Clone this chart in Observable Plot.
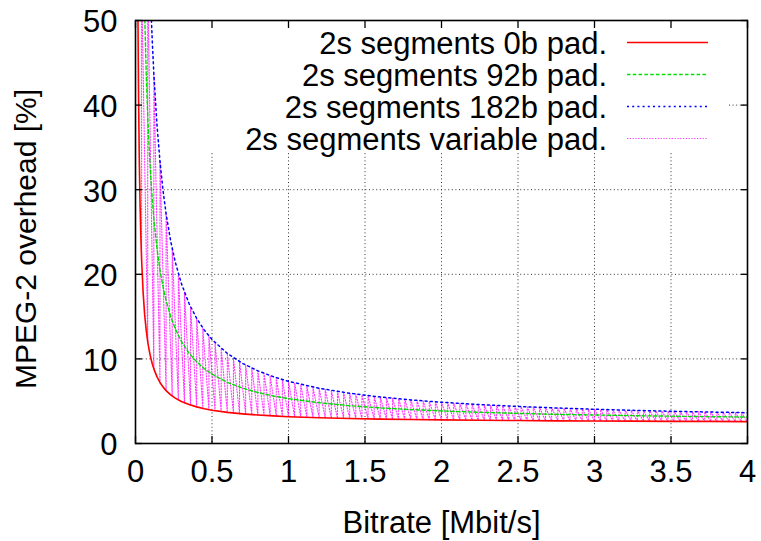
<!DOCTYPE html>
<html><head><meta charset="utf-8">
<script src="https://cdn.jsdelivr.net/npm/d3@7"></script>
<script src="https://cdn.jsdelivr.net/npm/@observablehq/plot@0.6"></script>
<style>
html,body{margin:0;padding:0;background:#fff;}
#chart svg{display:block;}
</style></head><body><div id="chart"></div>
<script>
// ---------- DATA ----------
const xTicks = [0, 0.5, 1, 1.5, 2, 2.5, 3, 3.5, 4];
const xTickLabels = ["0", "0.5", "1", "1.5", "2", "2.5", "3", "3.5", "4"];
const yTicks = [0, 10, 20, 30, 40, 50];
const yTickLabels = ["0", "10", "20", "30", "40", "50"];
const xLabel = "Bitrate [Mbit/s]";
const yLabel = "MPEG-2 overhead [%]";
const seriesNames = ["2s segments 0b pad.", "2s segments 92b pad.", "2s segments 182b pad.", "2s segments variable pad."];

// bitrate sample points for the three smooth curves
const bitrate = [0.016, 0.02, 0.025, 0.03, 0.035, 0.04, 0.05, 0.06, 0.07, 0.08, 0.09, 0.1, 0.11, 0.12, 0.14, 0.16, 0.18, 0.2, 0.23, 0.26, 0.3, 0.35, 0.4, 0.45, 0.5, 0.6, 0.7, 0.8, 0.9, 1.0, 1.2, 1.4, 1.6, 1.8, 2.0, 2.25, 2.5, 2.75, 3.0, 3.25, 3.5, 3.75, 4.0];
const pad0 = [50.5, 40.9, 33.2, 28.1, 24.4, 21.7, 17.8, 15.2, 13.4, 12.0, 10.96, 10.1, 9.4, 8.82, 7.9, 7.21, 6.68, 6.25, 5.75, 5.36, 4.97, 4.6, 4.33, 4.11, 3.94, 3.68, 3.5, 3.36, 3.26, 3.17, 3.04, 2.95, 2.88, 2.83, 2.79, 2.74, 2.71, 2.68, 2.66, 2.64, 2.62, 2.61, 2.59];
const pad92 = [null, null, null, null, null, null, 60.4, 50.7, 43.8, 38.65, 34.6, 31.4, 28.76, 26.57, 23.1, 20.5, 18.5, 16.9, 15.0, 13.55, 12.07, 10.69, 9.65, 8.84, 8.2, 7.23, 6.54, 6.03, 5.62, 5.3, 4.82, 4.47, 4.21, 4.01, 3.85, 3.69, 3.56, 3.45, 3.37, 3.29, 3.23, 3.17, 3.13];
const pad182 = [null, null, null, null, null, null, null, null, null, null, 57.4, 51.9, 47.4, 43.65, 37.76, 33.34, 29.9, 27.15, 23.92, 21.44, 18.9, 16.54, 14.78, 13.4, 12.3, 10.65, 9.47, 8.59, 7.9, 7.35, 6.53, 5.94, 5.49, 5.15, 4.88, 4.6, 4.38, 4.2, 4.05, 3.92, 3.81, 3.72, 3.64];

// variable padding: sampled points, each swinging between a high and a low overhead
const varX = [0.04, 0.08, 0.12, 0.16, 0.20, 0.24, 0.28, 0.32, 0.36, 0.40,
  0.44, 0.48, 0.52, 0.56, 0.60, 0.64, 0.68, 0.72, 0.76, 0.80,
  0.84, 0.88, 0.92, 0.96, 1.00, 1.04, 1.08, 1.12, 1.16, 1.20,
  1.24, 1.28, 1.32, 1.36, 1.40, 1.44, 1.48, 1.52, 1.56, 1.60,
  1.64, 1.68, 1.72, 1.76, 1.80, 1.84, 1.88, 1.92, 1.96, 2.00,
  2.04, 2.08, 2.12, 2.16, 2.20, 2.24, 2.28, 2.32, 2.36, 2.40,
  2.44, 2.48, 2.52, 2.56, 2.60, 2.64, 2.68, 2.72, 2.76, 2.80,
  2.84, 2.88, 2.92, 2.96, 3.00, 3.04, 3.08, 3.12, 3.16, 3.20,
  3.24, 3.28, 3.32, 3.36, 3.40, 3.44, 3.48, 3.52, 3.56, 3.60,
  3.64, 3.68, 3.72, 3.76, 3.80, 3.84, 3.88, 3.92, 3.96, 4.00];
const varHi = [55, 55, 43.6, 33.3, 27.2, 23.0, 20.1, 17.9, 16.15, 14.8,
  13.65, 12.7, 11.92, 11.24, 10.65, 10.13, 9.68, 9.28, 8.91, 8.59,
  8.29, 8.03, 7.78, 7.56, 7.35, 7.16, 6.98, 6.82, 6.67, 6.53,
  6.39, 6.27, 6.15, 6.04, 5.94, 5.84, 5.74, 5.66, 5.57, 5.49,
  5.42, 5.35, 5.28, 5.21, 5.15, 5.09, 5.03, 4.98, 4.93, 4.88,
  4.83, 4.78, 4.73, 4.69, 4.65, 4.61, 4.57, 4.53, 4.50, 4.46,
  4.43, 4.40, 4.36, 4.33, 4.30, 4.28, 4.25, 4.22, 4.19, 4.17,
  4.14, 4.12, 4.10, 4.07, 4.05, 4.03, 4.01, 3.99, 3.97, 3.95,
  3.93, 3.91, 3.89, 3.87, 3.86, 3.84, 3.82, 3.81, 3.79, 3.78,
  3.76, 3.75, 3.73, 3.72, 3.70, 3.69, 3.68, 3.66, 3.65, 3.64];
const varLo = [21.7, 12.0, 8.8, 7.2, 6.25, 5.6, 5.15, 4.8, 4.54, 4.33,
  4.15, 4.0, 3.88, 3.78, 3.68, 3.6, 3.53, 3.47, 3.41, 3.36,
  3.32, 3.28, 3.24, 3.2, 3.17, 3.14, 3.11, 3.09, 3.06, 3.04,
  3.02, 3.0, 2.98, 2.97, 2.95, 2.93, 2.92, 2.91, 2.89, 2.88,
  2.87, 2.86, 2.85, 2.84, 2.83, 2.82, 2.81, 2.80, 2.79, 2.79,
  2.78, 2.77, 2.76, 2.76, 2.75, 2.74, 2.74, 2.73, 2.73, 2.72,
  2.72, 2.71, 2.71, 2.70, 2.70, 2.69, 2.69, 2.68, 2.68, 2.68,
  2.67, 2.67, 2.66, 2.66, 2.66, 2.65, 2.65, 2.65, 2.64, 2.64,
  2.64, 2.63, 2.63, 2.63, 2.63, 2.62, 2.62, 2.62, 2.62, 2.61,
  2.61, 2.61, 2.61, 2.60, 2.60, 2.60, 2.60, 2.60, 2.59, 2.59];

// ---------- STYLE ----------
const styles = [
  {stroke: "#ff0000", strokeWidth: 1.6, dash: null, opacity: 1},
  {stroke: "#00dd00", strokeWidth: 1.4, dash: "3.5,2.3", opacity: 1},
  {stroke: "#0000ff", strokeWidth: 1.5, dash: "2,3.2", opacity: 1},
  {stroke: "#ff00ff", strokeWidth: 1.1, dash: "1.2,1.6", opacity: 0.78}
];
const FONT = "'Liberation Sans', Arial, Helvetica, sans-serif";
const FS = 31;
const W = 761, H = 541, mL = 135, mR = 14, mT = 20, mB = 98;

// ---------- TABLES ----------
const curve = (vals) => bitrate.map((b, i) => ({x: b, y: vals[i]})).filter(d => d.y != null);
const curves = [curve(pad0), curve(pad92), curve(pad182)];
const varPoints = varX.flatMap((b, i) => [{x: b, y: varLo[i]}, {x: b, y: varHi[i]}]);

function legendBack(index, scales, values, dims) {
  const g = d3.create("svg:g");
  g.append("rect")
    .attr("x", dims.marginLeft + 1)
    .attr("y", dims.marginTop + 1)
    .attr("width", dims.width - dims.marginRight - 20 - dims.marginLeft - 1)
    .attr("height", 131)
    .attr("fill", "#fff");
  return g.node();
}
function legend(index, scales, values, dims) {
  const g = d3.create("svg:g").attr("font-family", FONT).attr("font-size", FS);
  const right = dims.width - dims.marginRight;
  seriesNames.forEach((name, i) => {
    const y = dims.marginTop + 22.5 + 32 * i;
    g.append("text").attr("x", right - 140).attr("y", y).attr("dy", "0.36em")
      .attr("text-anchor", "end").attr("fill", "#000").text(name);
    const s = styles[i];
    g.append("line").attr("x1", right - 120).attr("x2", right - 39).attr("y1", y).attr("y2", y)
      .attr("stroke", s.stroke).attr("stroke-width", s.strokeWidth)
      .attr("stroke-opacity", s.opacity)
      .attr("stroke-dasharray", s.dash);
  });
  return g.node();
}

const gridStyle = {stroke: "#000", strokeOpacity: 0.8, strokeWidth: 1, strokeDasharray: "1,2.6"};
const lineMark = (data, s) => Plot.line(data, {x: "x", y: "y", stroke: s.stroke, strokeWidth: s.strokeWidth, strokeDasharray: s.dash, strokeOpacity: s.opacity, clip: true, curve: "linear"});

const chart = Plot.plot({
  width: W, height: H,
  marginLeft: mL, marginRight: mR, marginTop: mT, marginBottom: mB,
  style: {fontFamily: FONT, fontSize: FS + "px", background: "#fff", color: "#000", overflow: "visible"},
  x: {domain: [0, 4], ticks: xTicks},
  y: {domain: [0, 50], ticks: yTicks},
  marks: [
    Plot.gridX(xTicks.slice(1, -1), gridStyle),
    Plot.gridY(yTicks.slice(1, -1), gridStyle),
    legendBack,
    lineMark(varPoints, styles[3]),
    lineMark(curves[2], styles[2]),
    lineMark(curves[1], styles[1]),
    lineMark(curves[0], styles[0]),
    Plot.frame({stroke: "#000", strokeWidth: 1.6}),
    Plot.axisX(xTicks, {anchor: "bottom", tickSize: -7, tickFormat: () => "", label: null, strokeWidth: 1.3}),
    Plot.axisX(xTicks, {anchor: "top", tickSize: -7, tickFormat: () => "", label: null, strokeWidth: 1.3}),
    Plot.axisY(yTicks, {anchor: "left", tickSize: -7, tickFormat: () => "", label: null, strokeWidth: 1.3}),
    Plot.axisY(yTicks, {anchor: "right", tickSize: -7, tickFormat: () => "", label: null, strokeWidth: 1.3}),
    Plot.axisX(xTicks, {anchor: "bottom", tickSize: 0, tickPadding: 16, fontSize: FS, tickFormat: d => xTickLabels[xTicks.indexOf(d)], label: null}),
    Plot.axisY(yTicks, {anchor: "left", tickSize: 0, tickPadding: 18, fontSize: FS, tickFormat: d => yTickLabels[yTicks.indexOf(d)], label: null, dy: 2}),
    Plot.text([yLabel], {frameAnchor: "left", dx: -109, dy: 7, rotate: -90, fontSize: 30, textAnchor: "middle", lineAnchor: "middle"}),
    Plot.text([xLabel], {frameAnchor: "bottom", dy: 80, fontSize: FS, textAnchor: "middle", lineAnchor: "middle"}),
    legend
  ]
});
document.getElementById("chart").appendChild(chart);
</script></body></html>
